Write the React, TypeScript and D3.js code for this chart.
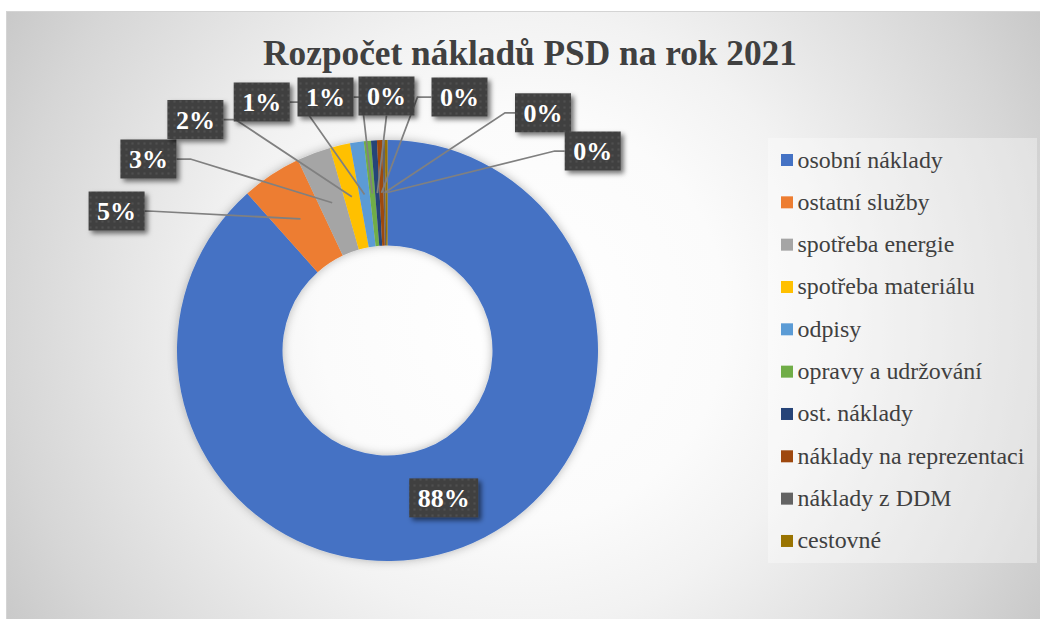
import React from 'react';
import * as d3 from 'd3';

const TITLE = 'Rozpočet nákladů PSD na rok 2021';
const CATEGORIES = [
  'osobní náklady',
  'ostatní služby',
  'spotřeba energie',
  'spotřeba materiálu',
  'odpisy',
  'opravy a udržování',
  'ost. náklady',
  'náklady na reprezentaci',
  'náklady z DDM',
  'cestovné',
];
const VALUES = [88.4, 4.6, 2.6, 1.55, 1.05, 0.55, 0.45, 0.4, 0.2, 0.2];
const COLORS = ['#4472C4', '#ED7D31', '#A5A5A5', '#FFC000', '#5B9BD5', '#70AD47', '#264478', '#9E480E', '#636363', '#997300'];

// label layout (manual placement offsets relative to donut centre; null = centroid)
const LABEL_OFFSETS: ([number, number] | null)[] = [
  null,
  [-270.9, -139.5],
  [-239.1, -191.5],
  [-192.1, -231],
  [-125.8, -248.5],
  [-62, -253.5],
  [-1, -254.5],
  [72, -253.5],
  [155.5, -237.7],
  [205.2, -199.5],
];
const LEADER_SIDE = ['none', 'right', 'right', 'right', 'right', 'right', 'bottom', 'left', 'left', 'left'];
const LEADER_ELBOW = [0, 4, 14, 12, 10, 8, 0, 14, 10, 10];

const W = 1040;
const H = 619;
const CX = 387.5;
const CY = 350.5;
const R_OUT = 210.5;
const R_IN = 105;
const SERIF = '"Liberation Serif", "Times New Roman", serif';

export default function App() {
  const total = d3.sum(VALUES);
  const pie = d3.pie<number>().sort(null).startAngle(0).endAngle(2 * Math.PI);
  const arcs = pie(VALUES);
  const arc = d3.arc<d3.PieArcDatum<number>>().innerRadius(R_IN).outerRadius(R_OUT);
  const fmt = d3.format('.0%');
  const FS = 26;

  const labels = arcs.map((a, i) => {
    const [tx, ty] = arc.centroid(a);
    const off = LABEL_OFFSETS[i];
    const lx = off ? off[0] : tx;
    const ly = off ? off[1] : ty;
    const text = fmt(VALUES[i] / total);
    const nDigits = text.length - 1;
    const bw = FS * (0.5 * nDigits + 1) + 17;
    const bh = 39;
    let pts: [number, number][] | null = null;
    const side = LEADER_SIDE[i];
    const el = LEADER_ELBOW[i];
    if (side === 'right') {
      const sx = lx + bw / 2;
      pts = [[sx, ly], [sx + el, ly], [tx, ty]];
    } else if (side === 'left') {
      const sx = lx - bw / 2;
      pts = [[sx, ly], [sx - el, ly], [tx, ty]];
    } else if (side === 'bottom') {
      pts = [[lx, ly + bh / 2], [tx, ty]];
    }
    return { lx, ly, text, bw, bh, pts, tx, ty };
  });

  const legendX = 781;
  const legendY0 = 160;
  const legendStep = 42.33;

  return (
    <svg width={W} height={H} style={{ position: 'absolute', left: 0, top: 0, display: 'block' }}>
      <defs>
        <radialGradient id="bg" gradientUnits="userSpaceOnUse" cx={523} cy={318} r={680}>
          <stop offset="0" stopColor="#ffffff" />
          <stop offset="0.3" stopColor="#fbfbfb" />
          <stop offset="0.45" stopColor="#f2f2f2" />
          <stop offset="0.76" stopColor="#d6d6d6" />
          <stop offset="0.9" stopColor="#c7c7c7" />
          <stop offset="1" stopColor="#c0c0c0" />
        </radialGradient>
        <filter id="donutShadow" x="-20%" y="-20%" width="140%" height="140%">
          <feDropShadow dx="0" dy="0" stdDeviation="5" floodColor="#000" floodOpacity="0.28" />
        </filter>
        <filter id="boxShadow" x="-30%" y="-30%" width="160%" height="170%">
          <feDropShadow dx="3" dy="3" stdDeviation="2.5" floodColor="#000" floodOpacity="0.55" />
        </filter>
        <pattern id="dots" width="6" height="6" patternUnits="userSpaceOnUse">
          <rect width="6" height="6" fill="#404040" />
          <circle cx="3" cy="3" r="1" fill="#555555" />
        </pattern>
      </defs>

      <rect x={6.5} y={11.5} width={W} height={H} fill="url(#bg)" stroke="#d4d4d4" strokeWidth={1} />

      <text x={530} y={65} textAnchor="middle" fontSize={35.3} fontWeight="bold" fill="#404040" style={{ fontFamily: SERIF }}>{TITLE}</text>

      <g transform={`translate(${CX},${CY})`}>
        <g filter="url(#donutShadow)">
          {arcs.map((a, i) => (
            <path key={i} d={arc(a) || ''} fill={COLORS[i]} />
          ))}
        </g>
        {labels.map((l, i) => l.pts ? (
          <polyline key={'l' + i} points={l.pts.map(p => p.join(',')).join(' ')} fill="none" stroke="#808080" strokeWidth={1.75} />
        ) : null)}
        {labels.map((l, i) => (
          <g key={'b' + i}>
            <rect x={l.lx - l.bw / 2} y={l.ly - l.bh / 2} width={l.bw} height={l.bh} fill="url(#dots)" filter="url(#boxShadow)" />
            <text x={l.lx} y={l.ly + 9} textAnchor="middle" fontSize={FS} fontWeight="bold" fill="#ffffff" style={{ fontFamily: SERIF }}>{l.text}</text>
          </g>
        ))}
      </g>

      <rect x={768} y={138} width={269} height={425} fill="#ffffff" fillOpacity={0.35} />
      {CATEGORIES.map((c, i) => {
        const y = legendY0 + i * legendStep;
        return (
          <g key={'lg' + i}>
            <rect x={legendX} y={y - 6} width={12} height={12} fill={COLORS[i]} />
            <text x={797.5} y={y + 7.5} fontSize={23.9} fill="#404040" style={{ fontFamily: SERIF }}>{c}</text>
          </g>
        );
      })}
    </svg>
  );
}
